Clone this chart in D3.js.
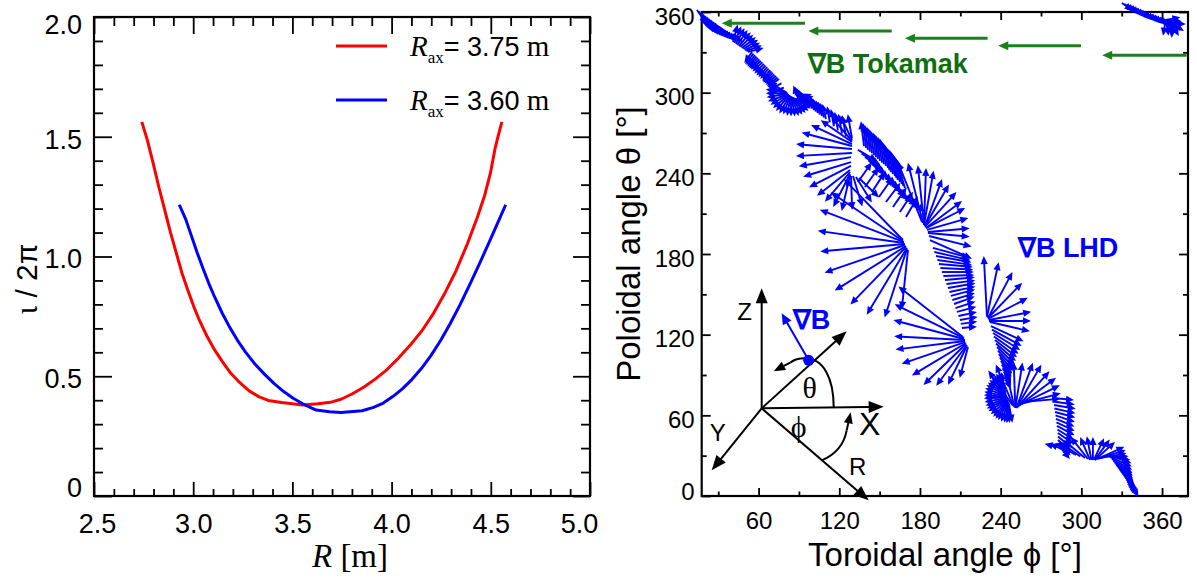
<!DOCTYPE html>
<html>
<head>
<meta charset="utf-8">
<script src="https://cdn.jsdelivr.net/npm/d3@7"></script>
<style>
  body { margin: 0; background: #fff; }
  svg { display: block; }
</style>
</head>
<body>
<svg id="chart" width="1197" height="583"></svg>
<script>
// ---------------- Left panel data: rotational transform profiles ----------------
const radius375 = [2.741, 2.770, 2.799, 2.828, 2.857, 2.886, 2.915, 2.944, 2.973, 3.002, 3.031, 3.069,
  3.108, 3.147, 3.185, 3.234, 3.282, 3.330, 3.378, 3.446, 3.552, 3.629, 3.691, 3.745, 3.803, 3.861,
  3.919, 3.977, 4.035, 4.093, 4.151, 4.208, 4.266, 4.324, 4.382, 4.431, 4.469, 4.498, 4.521, 4.537, 4.556];
const iota375 = [1.562, 1.483, 1.387, 1.286, 1.193, 1.099, 1.014, 0.929, 0.859, 0.793, 0.734, 0.668,
  0.610, 0.561, 0.517, 0.474, 0.439, 0.415, 0.399, 0.390, 0.380, 0.385, 0.391, 0.404, 0.427, 0.455,
  0.489, 0.528, 0.576, 0.629, 0.688, 0.758, 0.843, 0.939, 1.053, 1.161, 1.255, 1.348, 1.449, 1.503, 1.562];

const radius360 = [2.930, 2.963, 2.992, 3.021, 3.050, 3.079, 3.108, 3.147, 3.185, 3.224, 3.263, 3.311,
  3.359, 3.407, 3.456, 3.504, 3.552, 3.620, 3.687, 3.745, 3.851, 3.909, 3.958, 4.006, 4.054, 4.102,
  4.151, 4.199, 4.247, 4.295, 4.344, 4.398, 4.450, 4.488, 4.517, 4.546, 4.575];
const iota360 = [1.216, 1.154, 1.084, 1.014, 0.949, 0.887, 0.831, 0.762, 0.703, 0.649, 0.602, 0.551,
  0.509, 0.470, 0.436, 0.408, 0.385, 0.359, 0.352, 0.349, 0.356, 0.370, 0.388, 0.415, 0.447, 0.486,
  0.533, 0.587, 0.649, 0.719, 0.797, 0.890, 0.983, 1.053, 1.107, 1.161, 1.216];

const profileNames = ['3.75', '3.60'];
const radiusTicks = [2.5, 3.0, 3.5, 4.0, 4.5, 5.0];
const iotaTicks = [0, 0.5, 1.0, 1.5, 2.0];

// ---------------- Right panel data ----------------
const angleTicksPhi = [60, 120, 180, 240, 300, 360];
const angleTicksTheta = [0, 60, 120, 180, 240, 300, 360];

// tokamak grad-B: horizontal arrows (tail phi, head phi, theta)
const tokTailPhi = [94.5, 159.0, 230.3, 299.7, 378.3];
const tokHeadPhi = [32.6, 97.0, 168.8, 238.2, 315.5];
const tokTheta = [351.6, 345.9, 340.4, 334.9, 327.8];

// LHD grad-B along a field line: [phi, theta, direction (deg), magnitude (plot deg)]
const lhdGradB = [
  // start of the line, upper left
  [14.2,361.5,305,13],[15.7,360.4,302,13],[17.2,359.3,300,13.5],[18.7,358.1,298,13.5],[20.2,357.0,296,13.5],
  [21.7,355.9,298,13.5],[23.1,354.8,300,13.5],[24.6,353.7,302,13.5],[26.1,352.6,304,13],[27.6,351.5,307,13],
  [29.1,350.3,310,13],[30.6,349.2,313,12.5],[32.0,348.1,316,12.5],[33.5,347.0,319,12.5],[35.0,345.9,322,12],
  [36.5,344.8,326,12],[38.0,343.6,330,12],
  [41.0,337.7,75,13.4],[42.1,337.0,68,13.4],[43.2,336.2,62,13.4],[44.3,335.5,56,13.4],[45.4,334.7,50,13.4],
  [46.5,334.0,44,13.2],[47.7,333.2,38,13.0],[48.8,332.5,32,12.8],[49.9,331.7,26,12.5],[51.0,331.0,20,12.2],[52.1,330.3,14,12.0],
  [55.1,330.3,235,10],[56.2,329.1,232,10],[57.3,328.0,230,10],[58.4,326.9,228,10],[59.6,325.8,225,10],[60.7,324.7,222,10],
  [61.8,323.6,220,10],[62.9,322.5,222,10],[64.0,321.4,225,10],[65.1,320.2,228,10],[66.3,319.1,230,10],[67.4,318.0,232,10],
  [68.5,316.9,235,10],[69.6,315.8,230,10],[70.7,314.7,225,10],[71.8,313.5,222,10],[73.0,312.4,220,10],[74.1,311.3,218,10],
  [75.2,310.2,215,10],[77.0,307.0,210,11],[78.8,303.8,200,12],
  // rosette near theta = 300
  [80.5,300.3,150,15],[80.8,300.0,160,15.5],[81.1,299.8,170,16],[81.4,299.5,180,16],[81.7,299.3,190,16],[82.0,299.0,200,16],
  [82.3,298.8,210,15.5],[82.6,298.5,220,15.5],[82.9,298.3,230,15.5],[83.2,298.0,240,15.5],[83.5,297.8,250,15],[83.8,297.5,260,15],
  [84.1,297.3,270,15],[84.4,297.0,280,15],[84.7,296.8,290,15],[85.0,296.5,300,15],[85.3,296.3,310,15],[85.6,296.0,320,15],
  [85.9,295.8,330,15],[86.2,295.5,340,15],[86.5,295.3,350,14.5],[86.8,295.0,0,14.5],[87.1,294.8,10,14],[87.4,294.5,20,13],
  [89.3,296.0,110,10],[90.8,294.9,111,10],[92.3,293.8,112,10],[93.8,292.7,113,10],[95.2,291.6,115,10],[96.7,290.4,114,10],
  [98.2,289.3,112,10.5],[99.7,288.2,111,10.5],[101.2,287.1,110,10.5],[102.6,286.0,109,10.8],[104.1,284.9,108,11],
  [105.6,283.7,106,11],[107.1,282.6,105,11],[108.6,281.5,104,11.2],[110.1,280.4,103,11.5],
  [113.0,278.0,100,12],[116.0,275.0,100,13],[119.0,272.0,100,14],[122.0,269.5,100,15],[125.0,267.5,100,16],
  // fan around phi = 128
  [129.4,266.3,100,17.9],[129.4,264.8,115,20.1],[129.4,264.0,130,23.8],[129.4,263.3,145,28.3],[129.4,261.8,155,33.5],
  [129.4,260.3,165,38.7],[129.4,258.1,175,41.7],[129.4,255.1,183,41.7],[128.7,252.1,190,39.4],[128.7,248.4,197,37.2],
  [128.7,245.5,207,35.0],[128.0,242.5,218,31.2],[128.0,241.0,230,29.0],[128.0,239.5,243,27.5],[128.0,238.8,257,27.5],
  [128.7,238.0,272,25.3],[130.2,238.0,287,23.8],[132.4,237.3,302,22.3],[134.6,236.5,316,20.8],
  [138.4,260.3,97,18.6],[139.9,258.9,97,18.6],[141.3,257.4,97,18.6],[142.8,256.2,97,18.6],[144.3,255.1,98,18.6],
  [145.8,253.6,98,18.6],[147.3,252.1,97,18.6],[148.8,250.7,98,19.0],[150.3,249.2,99,19.3],[151.8,248.0,99,19.3],
  [153.2,246.9,99,19.3],[154.7,245.5,100,19.0],[156.2,244.0,100,18.6],[157.3,242.5,100,18.6],[158.4,241.0,100,18.6],
  [159.9,239.5,100,19.0],[161.4,238.0,101,19.3],[162.5,236.5,101,19.7],[163.6,235.0,102,20.1],[165.1,233.6,103,20.1],
  [166.6,232.1,104,20.1],[167.7,230.6,105,20.1],[168.8,229.1,106,20.1],
  [133.9,257.4,330,16.4],[136.5,254.8,328,16.4],[139.1,252.1,325,16.4],[141.7,249.5,322,16.4],[144.3,246.9,320,16.4],
  [146.9,244.3,321,16.4],[149.5,241.7,322,16.4],[152.1,239.1,320,16.4],[154.7,236.5,318,16.4],[157.3,233.9,316,16.4],
  [159.9,231.3,315,16.4],[162.5,228.7,318,16.4],[165.1,226.1,320,16.4],[167.7,223.5,322,16.4],[170.3,220.9,325,16.4],
  [133.9,233.5,55,17.9],[139.1,229.8,55,17.9],[144.3,226.1,57,17.9],[149.5,222.4,55,17.9],[154.7,218.7,53,17.9],
  [159.9,215.0,55,17.9],[165.1,211.2,57,17.9],[169.6,207.5,60,17.9],
  // large left-pointing fan near phi = 168
  [167.3,190.4,134,63.2],[167.3,189.7,146,64.7],[168.1,188.9,159,67.0],[168.1,188.2,172,64.7],[168.8,187.4,185,63.2],
  [168.8,186.7,199,63.2],[169.6,185.9,212,62.5],[169.6,185.2,226,59.5],[170.3,184.5,239,58.0],[170.3,183.7,252,53.6],
  [171.1,183.0,264,44.6],
  // upward fan near phi = 183
  [181.5,203.8,112,48.4],[182.2,203.1,104,46.1],[183.0,202.3,96,43.9],[183.0,201.6,88,42.4],[183.0,201.6,80,40.9],
  [183.7,200.8,70,37.2],[183.7,200.8,60,35.7],[183.7,200.1,48,35.0],[184.5,199.3,37,33.5],[184.5,199.3,27,32.7],
  [185.2,197.9,16,32.0],[185.9,196.4,5,31.2],[185.9,195.6,355,31.2],[186.7,193.4,346,32.7],[187.4,190.4,336,34.2],
  [189.6,184.5,345,28.3],[190.7,181.5,347,27.5],[191.9,178.5,350,26.8],[193.0,175.5,352,26.0],[194.1,172.6,355,25.3],
  [195.2,169.6,357,24.5],[196.3,166.6,0,23.8],[197.4,163.6,2,23.0],[198.6,160.7,5,22.3],[199.7,157.7,7,21.5],
  [200.8,154.7,10,20.8],[201.9,151.7,12,19.7],[203.0,148.8,15,18.6],[204.1,145.8,17,17.5],[205.3,142.8,20,16.4],
  [206.4,139.8,18,15.6],[207.5,136.9,15,14.9],[208.6,133.9,12,14.1],[209.7,130.9,10,13.4],[210.4,128.0,8,12.3],
  [211.2,125.0,5,11.2],
  // large left-pointing fan near phi = 213
  [212.0,118.3,142,61.0],[212.7,117.5,154,57.3],[212.7,116.8,165,54.3],[213.5,116.0,177,52.8],[213.5,115.3,187,52.1],
  [213.5,114.5,199,49.8],[214.2,113.8,211,46.9],[214.2,113.1,224,43.9],[214.9,112.3,233,37.9],[214.9,111.6,244,32.0],
  [215.7,110.8,255,23.8],
  // fan near phi = 230
  [229.8,133.9,93,44.6],[229.8,133.1,78,41.7],[230.6,132.4,62,38.7],[230.6,132.4,46,36.5],[230.6,131.7,28,33.5],
  [231.3,130.9,11,32.0],[231.3,130.2,0,31.2],[232.0,129.4,347,30.5],
  [232.8,126.4,335,26.8],[233.5,123.8,331,25.3],[234.3,121.2,328,23.8],[235.0,118.6,325,22.3],[235.8,116.0,322,20.8],
  [236.5,113.4,319,19.7],[237.3,110.8,316,18.6],[238.0,108.2,313,17.5],[238.7,105.6,310,16.4],[239.4,103.0,307,15.2],
  [240.2,100.4,304,14.1],[240.9,97.8,301,13.4],[241.7,95.2,298,12.6],[242.4,92.6,295,11.9],[243.2,90.0,292,11.2],
  // rosette near theta = 72
  [243.2,77.4,100,15.0],[243.3,77.0,108,15.5],[243.5,76.6,115,16.0],[243.6,76.3,122,16.2],[243.7,75.9,130,16.4],
  [243.8,75.5,138,16.4],[243.9,75.1,145,16.4],[244.0,74.8,152,16.6],[244.2,74.4,160,16.8],[244.3,74.0,168,16.9],
  [244.4,73.6,175,17.0],[244.5,73.3,182,17.0],[244.7,72.9,190,17.0],[244.8,72.5,198,16.9],[244.9,72.1,205,16.8],
  [245.0,71.8,212,16.6],[245.2,71.4,220,16.4],[245.3,71.0,228,16.2],[245.4,70.6,235,16.0],[245.5,70.3,242,15.8],
  [245.7,69.9,250,15.6],[245.8,69.5,258,15.3],[245.9,69.1,265,15.0],[246.0,68.8,272,14.5],[246.2,68.4,280,14.1],
  // upward fan near phi = 251
  [248.7,67.7,125,31.2],[249.5,66.9,113,33.5],[250.2,66.2,103,34.2],[250.9,65.5,92,34.2],[250.9,65.5,81,34.2],
  [251.7,65.5,70,35.7],[251.7,65.5,60,37.2],[252.4,66.2,48,35.7],[253.2,66.9,37,35.0],[253.9,67.7,26,33.5],
  [254.6,68.4,15,31.2],[256.1,69.9,5,28.3],
  [278.2,72.9,355,16.4],[278.9,70.3,352,16.4],[279.7,67.7,350,16.4],[280.0,65.1,347,16.0],[280.4,62.5,345,15.6],
  [280.8,59.9,341,15.2],[281.1,57.3,338,14.9],[281.5,54.7,335,14.9],[281.9,52.1,332,14.9],[282.2,49.5,328,14.5],
  [282.6,46.9,325,14.1],[282.6,44.3,321,13.8],[282.6,41.7,318,13.4],[283.0,39.5,314,13.0],[283.4,37.2,310,12.6],
  // small fan near phi = 308
  [287.1,35.0,165,14.9],[291.5,32.7,158,16.4],[296.0,30.5,150,17.9],[299.3,29.4,145,19.3],[302.7,28.3,140,20.8],
  [304.9,27.5,128,20.8],[306.4,26.8,113,18.6],[307.5,26.8,101,17.9],[308.6,26.8,90,17.1],[309.3,26.8,65,17.9],
  [309.7,26.8,53,19.0],[310.1,26.8,42,20.1],[311.6,27.5,24,22.3],[312.7,27.9,17,21.2],
  [313.8,28.3,10,20.1],[316.0,29.5,0,19.0],[318.2,30.0,350,18.5],
  [320.5,30.5,340,17.9],[321.6,29.0,336,17.5],[322.7,27.5,332,17.1],[323.8,26.0,328,16.8],[324.9,24.5,325,16.4],
  [326.0,23.1,321,16.0],[327.2,21.6,318,15.6],[328.3,20.1,315,15.2],[329.4,18.6,312,14.9],[330.5,17.1,310,14.5],
  [331.6,15.6,308,14.1],[332.7,14.1,306,13.8],[333.9,12.6,304,13.4],[335.4,10.8,302,12.3],[336.9,8.9,300,11.2],
  // continuation past theta = 360 (upper right)
  [330.2,366.7,325,9.7],[332.0,366.0,325,9.7],[333.9,365.2,325,9.7],[335.8,364.5,323,9.7],[337.6,363.7,322,9.7],
  [339.5,363.0,321,9.7],[341.3,362.2,320,9.7],[343.2,361.5,319,9.7],[345.1,360.7,318,9.7],[347.0,360.0,319,9.7],
  [348.8,359.3,320,9.7],[350.7,358.5,321,9.8],[352.5,357.8,322,10.0],[354.4,357.0,323,10.0],[356.2,356.3,325,10.0],
  [358.5,355.5,325,10.5],[360.5,355.0,330,11.0],
  [362.8,354.1,260,11.9],[362.8,354.1,280,11.9],[362.8,354.1,295,11.9],[362.8,354.1,310,11.9],[362.8,354.1,325,11.9],
  [362.8,354.1,340,11.9],[362.8,354.1,355,11.9],[362.8,354.1,10,11.0],
  [367.3,351.1,270,10.4],[367.3,351.1,300,10.4],[367.3,351.1,330,10.4],[367.3,351.1,0,10.4]
];

// ---------------- drawing ----------------
const SANS = '"Liberation Sans", Arial, Helvetica, sans-serif';
const SERIF = '"Liberation Serif", "Times New Roman", Times, serif';
const RED = '#ff0000', BLUE = '#0000ff', GREEN = '#1b801b', DKGREEN = '#0f6e0f';
const svg = d3.select('#chart');

function tickLayer(make, scale, transform, values, len, fmt, pad, fontSize) {
  const g = svg.append('g').attr('transform', transform)
    .call(make(scale).tickValues(values).tickSize(-len).tickPadding(pad || 0)
      .tickFormat(fmt || (() => '')));
  g.select('.domain').remove();
  g.selectAll('line').attr('stroke', '#000').attr('stroke-width', 1.8);
  g.selectAll('text').attr('fill', '#000').attr('font-family', SANS).attr('font-size', fontSize || 10);
  return g;
}

function drawArrow(g, x0, y0, x1, y1, head, half, sw, color) {
  const dx = x1 - x0, dy = y1 - y0, L = Math.hypot(dx, dy) || 1;
  const ux = dx / L, uy = dy / L;
  const h = Math.min(head, L * 0.6), w = half * h / head;
  const bx = x1 - ux * h, by = y1 - uy * h;
  g.append('line').attr('x1', x0).attr('y1', y0).attr('x2', bx + ux * 0.5).attr('y2', by + uy * 0.5)
    .attr('stroke', color).attr('stroke-width', sw);
  g.append('path').attr('fill', color)
    .attr('d', `M${x1},${y1}L${bx - uy * w},${by + ux * w}L${bx + uy * w},${by - ux * w}Z`);
}

// ===== Left panel =====
const L = { left: 94, right: 590, top: 17, bottom: 496 };
const xL = d3.scaleLinear().domain([2.5, 5.0]).range([L.left, L.right]);
const yL = d3.scaleLinear().domain([0, 2.0]).range([L.bottom, L.top]);
const minorR = d3.range(26, 50).map(v => v / 10).filter(v => !radiusTicks.includes(v));
const minorI = d3.range(1, 20).map(v => v / 10).filter(v => !iotaTicks.includes(v));

tickLayer(d3.axisBottom, xL, `translate(0,${L.bottom})`, minorR, 7);
const bx = tickLayer(d3.axisBottom, xL, `translate(0,${L.bottom})`, radiusTicks, 14, d3.format('.1f'), 17.5, 27);
bx.selectAll('text').attr('dx', (d, i) => i === 0 ? 3 : (i === radiusTicks.length - 1 ? -11 : 0));
tickLayer(d3.axisTop, xL, `translate(0,${L.top})`, minorR, 9);
tickLayer(d3.axisTop, xL, `translate(0,${L.top})`, radiusTicks, 17);
tickLayer(d3.axisLeft, yL, `translate(${L.left},0)`, minorI, 9);
const ly = tickLayer(d3.axisLeft, yL, `translate(${L.left},0)`, iotaTicks, 18,
  d => d === 0 ? '0' : d.toFixed(1), 12, 27);
ly.selectAll('text').attr('dy', d => d === 0 ? '0.02em' : (d === 2 ? '0.62em' : '0.42em'));
tickLayer(d3.axisRight, yL, `translate(${L.right},0)`, minorI, 9);
tickLayer(d3.axisRight, yL, `translate(${L.right},0)`, iotaTicks, 17);

svg.append('rect').attr('x', L.left).attr('y', L.top).attr('width', L.right - L.left)
  .attr('height', L.bottom - L.top).attr('fill', 'none').attr('stroke', '#000').attr('stroke-width', 2.2);

const lineL = d3.line().x(d => xL(d[0])).y(d => yL(d[1]));
const profiles = [
  { pts: d3.zip(radius375, iota375), color: RED },
  { pts: d3.zip(radius360, iota360), color: BLUE }
];
svg.append('g').selectAll('path').data(profiles).join('path')
  .attr('d', d => lineL(d.pts)).attr('fill', 'none').attr('stroke', d => d.color)
  .attr('stroke-width', 3).attr('stroke-linejoin', 'round');

// legend
profileNames.forEach((name, i) => {
  const yy = 46 + i * 54;
  svg.append('line').attr('x1', 336).attr('x2', 387).attr('y1', yy).attr('y2', yy)
    .attr('stroke', profiles[i].color).attr('stroke-width', 3);
  const t = svg.append('text').attr('x', 410).attr('y', yy + 10).attr('fill', '#000');
  t.append('tspan').attr('font-family', SERIF).attr('font-style', 'italic').attr('font-size', 29).text('R');
  t.append('tspan').attr('font-family', SERIF).attr('font-size', 17).attr('dy', 7).text('ax');
  t.append('tspan').attr('font-family', SANS).attr('font-size', 27).attr('dy', -7).text('= ' + name);
  t.append('tspan').attr('font-family', SERIF).attr('font-size', 29).text(' m');
});

// axis titles
const yTitle = svg.append('text').attr('transform', 'translate(37,279) rotate(-90)')
  .attr('text-anchor', 'middle').attr('fill', '#000');
yTitle.append('tspan').attr('font-family', SERIF).attr('font-size', 32).text('ι');
yTitle.append('tspan').attr('font-family', SANS).attr('font-size', 30).text(' / 2π');
const xTitle = svg.append('text').attr('x', 350).attr('y', 567).attr('text-anchor', 'middle')
  .attr('font-family', SERIF).attr('font-size', 33).attr('fill', '#000');
xTitle.append('tspan').attr('font-style', 'italic').text('R');
xTitle.append('tspan').text(' [m]');

// ===== Right panel =====
const P = { left: 701.7, right: 1188, top: 12, bottom: 496 };
const xR = d3.scaleLinear().domain([17.7, 379.3]).range([P.left, P.right]);
const yR = d3.scaleLinear().domain([0, 360]).range([P.bottom, P.top]);
const minorPhi = [30, 90, 150, 210, 270, 330];
const minorTheta = [30, 90, 150, 210, 270, 330];

tickLayer(d3.axisBottom, xR, `translate(0,${P.bottom})`, minorPhi, 4.5);
tickLayer(d3.axisBottom, xR, `translate(0,${P.bottom})`, angleTicksPhi, 8, d => d, 15.6, 24);
tickLayer(d3.axisTop, xR, `translate(0,${P.top})`, minorPhi, 4.5);
tickLayer(d3.axisTop, xR, `translate(0,${P.top})`, angleTicksPhi, 8);
tickLayer(d3.axisLeft, yR, `translate(${P.left},0)`, minorTheta, 5);
const ry = tickLayer(d3.axisLeft, yR, `translate(${P.left},0)`, angleTicksTheta, 9, d => d, 7, 24);
ry.selectAll('text').attr('dy', d => d === 0 ? '0.15em' : '0.5em');
tickLayer(d3.axisRight, yR, `translate(${P.right},0)`, minorTheta, 5);
tickLayer(d3.axisRight, yR, `translate(${P.right},0)`, angleTicksTheta, 9);

svg.append('rect').attr('x', P.left).attr('y', P.top).attr('width', P.right - P.left)
  .attr('height', P.bottom - P.top).attr('fill', 'none').attr('stroke', '#000').attr('stroke-width', 2.2);

// tokamak grad-B arrows
const tokG = svg.append('g');
tokTailPhi.forEach((tail, i) => {
  drawArrow(tokG, xR(tail), yR(tokTheta[i]), xR(tokHeadPhi[i]), yR(tokTheta[i]), 10, 4.5, 3, GREEN);
});

// LHD grad-B arrows along the field line
const gradG = svg.append('g');
lhdGradB.forEach(([phi, th, dir, len]) => {
  const a = dir * Math.PI / 180;
  drawArrow(gradG, xR(phi), yR(th), xR(phi + len * Math.cos(a)), yR(th + len * Math.sin(a)), 8, 3.6, 1.9, BLUE);
});

// labels
svg.append('text').attr('x', xR(96.6)).attr('y', yR(314.6)).attr('font-family', SANS)
  .attr('font-weight', 'bold').attr('font-size', 27).attr('fill', DKGREEN).text('∇B Tokamak');
svg.append('text').attr('x', xR(252.8)).attr('y', yR(178)).attr('font-family', SANS)
  .attr('font-weight', 'bold').attr('font-size', 27).attr('fill', BLUE).text('∇B LHD');

// coordinate sketch
const ox = xR(62.3), oy = yR(65.2);
const sk = svg.append('g').attr('transform', `translate(${ox},${oy})`);
const K = '#000';
drawArrow(sk, 0, 0, 0, -120, 15, 6, 2, K);          // Z
drawArrow(sk, 0, 0, 122, -1.5, 15, 6, 2, K);        // X
drawArrow(sk, 0, 0, -50, 62, 15, 6, 2, K);          // Y
drawArrow(sk, 0, 0, 107, 92, 15, 6, 2, K);          // R
drawArrow(sk, 0, 0, 85, -77, 15, 6, 2, K);          // radial direction
sk.append('path').attr('d', 'M72,-1 C72,-30 62,-50 43,-50 C38,-50 33,-49 29,-46')
  .attr('fill', 'none').attr('stroke', K).attr('stroke-width', 2);
drawArrow(sk, 29, -46, 12, -37, 16, 6.5, 2, K);
sk.append('path').attr('d', 'M60,52 C72,47 82,38 85,22')
  .attr('fill', 'none').attr('stroke', K).attr('stroke-width', 2);
drawArrow(sk, 85, 22, 89, 4, 16, 6.5, 2, K);
drawArrow(sk, 47, -48, 20, -95, 11, 5, 2, BLUE);
sk.append('circle').attr('cx', 47).attr('cy', -48).attr('r', 5.5).attr('fill', BLUE);

const skText = [
  { t: 'Z', x: -17, y: -88, f: SANS, s: 24, c: K },
  { t: 'X', x: 108, y: 27, f: SANS, s: 32, c: K },
  { t: 'Y', x: -44, y: 33, f: SANS, s: 24, c: K },
  { t: 'R', x: 96, y: 67, f: SANS, s: 24, c: K },
  { t: 'θ', x: 48, y: -10, f: SERIF, s: 30, c: K },
  { t: 'ϕ', x: 37, y: 29, f: SERIF, s: 30, c: K }
];
sk.selectAll('text.lab').data(skText).join('text').attr('class', 'lab')
  .attr('x', d => d.x).attr('y', d => d.y).attr('text-anchor', 'middle')
  .attr('font-family', d => d.f).attr('font-size', d => d.s).attr('fill', d => d.c).text(d => d.t);
sk.append('text').attr('x', 31).attr('y', -79).attr('font-family', SANS).attr('font-weight', 'bold')
  .attr('font-size', 27).attr('fill', BLUE).text('∇B');

// right panel axis titles
svg.append('text').attr('transform', 'translate(640,244) rotate(-90)').attr('text-anchor', 'middle')
  .attr('font-family', SANS).attr('font-size', 33).attr('fill', '#000').text('Poloidal angle θ [°]');
svg.append('text').attr('x', 945).attr('y', 566).attr('text-anchor', 'middle')
  .attr('font-family', SANS).attr('font-size', 33).attr('fill', '#000').text('Toroidal angle ϕ [°]');
</script>
</body>
</html>
